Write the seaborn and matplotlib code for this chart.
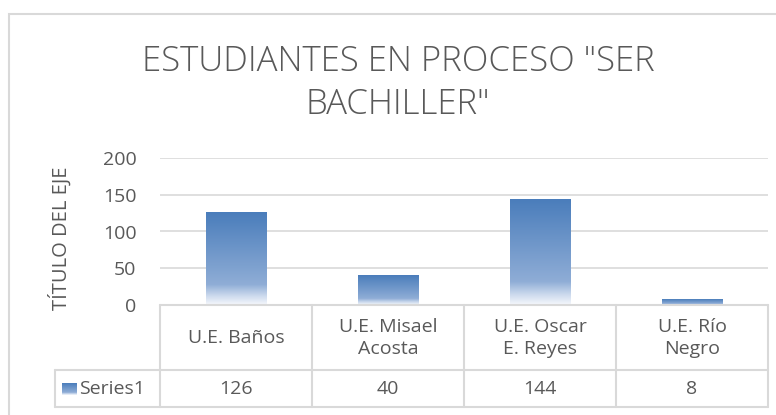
import numpy as np
import pandas as pd
import seaborn as sns
import matplotlib.pyplot as plt
from matplotlib.colors import LinearSegmentedColormap
from matplotlib.lines import Line2D
from matplotlib.patches import Rectangle

# datos del grafico
categorias = ["U.E. Baños", "U.E. Misael\nAcosta", "U.E. Oscar\nE. Reyes", "U.E. Río\nNegro"]
valores = [126, 40, 144, 8]
serie = "Series1"
titulo = 'ESTUDIANTES EN PROCESO "SER\nBACHILLER"'
titulo_eje = "TÍTULO DEL EJE"
yticks = [0, 50, 100, 150, 200]

W, H = 776, 415
GRIS = "#d9d9d9"
TEXTO = "#595959"

sns.set_theme(style="white")
plt.rcParams["font.family"] = ["Open Sans", "DejaVu Sans"]

# degradado tipo Excel (arriba oscuro, abajo blanco)
degradado = LinearSegmentedColormap.from_list(
    "excel", [(0, "#4a7dbb"), (0.78, "#8fadd6"), (0.9, "#cbd9ed"), (1.0, "#f6f8fc")])


def fx(px):
    return px / W


def fy(py):
    return 1 - py / H


fig = plt.figure(figsize=(W / 100, H / 100), dpi=100)
ax = fig.add_axes([fx(160), fy(305), fx(768) - fx(160), fy(158) - fy(305)])

df = pd.DataFrame({"cat": categorias, "val": valores})
sns.barplot(data=df, x="cat", y="val", ax=ax, width=0.4, color="#4a7dbb")

# reemplazar cada barra por un degradado
grad = np.linspace(0, 1, 256).reshape(-1, 1)
for p in ax.patches:
    x0, y0 = p.get_x(), p.get_y()
    w, h = p.get_width(), p.get_height()
    p.set_visible(False)
    ax.imshow(grad, cmap=degradado, aspect="auto", extent=[x0, x0 + w, y0, y0 + h],
              origin="upper", zorder=2)

ax.set_xlim(-0.5, len(categorias) - 0.5)
ax.set_ylim(0, 200)
ax.set_yticks(yticks)
ax.set_xticks([])
ax.set_xlabel("")
ax.set_ylabel("")
ax.grid(axis="y", color=GRIS, lw=1.2)
ax.set_axisbelow(True)
for s in ax.spines.values():
    s.set_visible(False)
ax.tick_params(axis="y", length=0, pad=17, labelsize=14, labelcolor=TEXTO)

# titulo y titulo del eje
fig.text(fx(398), fy(83), titulo, ha="center", va="center", fontsize=25,
         fontweight="light", color=TEXTO, linespacing=1.32)
fig.text(fx(60), fy(238), titulo_eje, ha="center", va="center", rotation=90,
         fontsize=14.5, color=TEXTO)

# tabla de datos
cols = [160, 312, 464, 616, 768]
filas = [305, 370, 407]


def linea(x1, y1, x2, y2):
    fig.add_artist(Line2D([fx(x1), fx(x2)], [fy(y1), fy(y2)], color=GRIS, lw=1.5))


linea(160, 305, 768, 305)
linea(55, 370, 768, 370)
linea(55, 407, 768, 407)
linea(55, 370, 55, 407)
for c in cols:
    linea(c, 305, c, 407)

for i, (cat, v) in enumerate(zip(categorias, valores)):
    cx = (cols[i] + cols[i + 1]) / 2
    fig.text(fx(cx), fy(338), cat, ha="center", va="center", fontsize=14,
             color=TEXTO, linespacing=1.25)
    fig.text(fx(cx), fy(389), str(v), ha="center", va="center", fontsize=14,
             color=TEXTO)

# clave de la leyenda
kax = fig.add_axes([fx(62), fy(395), fx(77) - fx(62), fy(383) - fy(395)])
kax.imshow(grad, cmap=degradado, aspect="auto")
kax.axis("off")
fig.text(fx(79), fy(389), serie, ha="left", va="center", fontsize=14, color=TEXTO)

# borde exterior
fig.add_artist(Rectangle((fx(9), fy(420)), fx(780) - fx(9), fy(14) - fy(420),
                         transform=fig.transFigure, fill=False, edgecolor=GRIS, lw=1.5))

fig.savefig("out.png", dpi=100)
